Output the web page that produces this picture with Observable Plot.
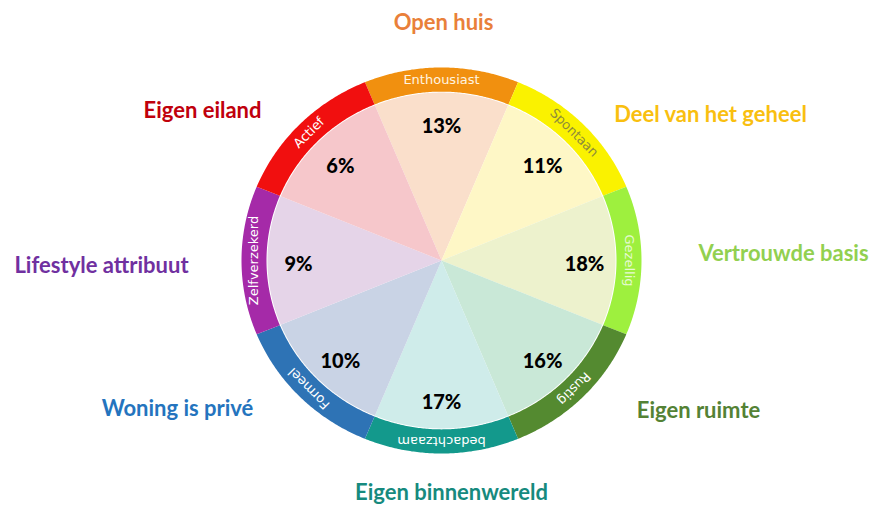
<!DOCTYPE html>
<html>
<head>
<meta charset="utf-8">
<script src="https://cdn.jsdelivr.net/npm/d3@7"></script>
<script src="https://cdn.jsdelivr.net/npm/@observablehq/plot@0.6"></script>
<style>
  html, body { margin: 0; padding: 0; background: #ffffff; }
  #chart svg { display: block; }
</style>
</head>
<body>
<div id="chart"></div>
<script>
// ---- data (clockwise from the top) ----
const traits = ["Enthousiast", "Spontaan", "Gezellig", "Rustig", "bedachtzaam", "Formeel", "Zelfverzekerd", "Actief"];
const shares = [13, 11, 18, 16, 17, 10, 9, 6];
const groups = ["Open huis", "Deel van het geheel", "Vertrouwde basis", "Eigen ruimte", "Eigen binnenwereld", "Woning is privé", "Lifestyle attribuut", "Eigen eiland"];
const ringColors = ["#F1900F", "#FAF200", "#9EF03E", "#548A30", "#13998C", "#2E73B5", "#A52AA8", "#F10F0F"];
const sliceColors = ["#FADFCB", "#FEF7C6", "#EDF2CD", "#C9E8D7", "#CFECEA", "#C9D3E5", "#E5D4E8", "#F6C7CB"];
const ringTextColors = ["#FFF4E0", "#8E8C3A", "#E6FAD2", "#FFFFFF", "#FFFFFF", "#FFFFFF", "#FFFFFF", "#FFFFFF"];
const groupColors = ["#E9803A", "#F9BF10", "#92D050", "#548235", "#168A7E", "#2474BE", "#7030A0", "#C0000C"];

// ---- layout ----
const W = 872, H = 507;
const cx = 441, cy = 260, rx = 200, ry = 193;   // wheel centre and outer radius in px
const pieR = 0.87, ringIn = 0.875, ringOut = 1.0, ringMid = 0.937, pctR = 0.715;
// outer group label anchors (in wheel units)
const groupAnchors = [[0.01, 1.233], [1.345, 0.756], [1.71, 0.036], [1.285, -0.777], [0.05, -1.202], [-1.32, -0.767], [-1.70, -0.026], [-1.195, 0.777]];

const n = traits.length;
const step = 360 / n;
const rad = d => d * Math.PI / 180;
const pt = (deg, r) => ({x: r * Math.sin(rad(deg)), y: r * Math.cos(rad(deg))});

function sector(i, r0, r1, key, color) {
  const a0 = i * step - step / 2, a1 = a0 + step;
  const pts = [];
  for (let a = a0; a <= a1 + 1e-9; a += 0.5) pts.push({...pt(a, r1), key, color});
  if (r0 === 0) pts.push({x: 0, y: 0, key, color});
  else for (let a = a1; a >= a0 - 1e-9; a -= 0.5) pts.push({...pt(a, r0), key, color});
  return pts;
}

const slices = traits.flatMap((t, i) => sector(i, 0, pieR, "s" + i, sliceColors[i]));
const rings = traits.flatMap((t, i) => sector(i, ringIn, ringOut, "r" + i, ringColors[i]));

const pctLabels = shares.map((s, i) => ({...pt(i * step, pctR), text: s + "%"}));
const ringLabels = traits.map((t, i) => ({...pt(i * step, ringMid), text: t, rot: i * step, color: ringTextColors[i]}));
const groupLabels = groups.map((g, i) => ({x: groupAnchors[i][0], y: groupAnchors[i][1], text: g, color: groupColors[i]}));

const chart = Plot.plot({
  width: W,
  height: H,
  margin: 0,
  style: {background: "#ffffff"},
  x: {domain: [-cx / rx, (W - cx) / rx], axis: null},
  y: {domain: [-(H - cy) / ry, cy / ry], axis: null},
  color: {type: "identity"},
  marks: [
    Plot.line(slices, {x: "x", y: "y", z: "key", fill: "color", stroke: "none"}),
    Plot.line(rings, {x: "x", y: "y", z: "key", fill: "color", stroke: "none"}),
    Plot.text(pctLabels, {x: "x", y: "y", dy: 4, text: "text", fill: "#000000", fontSize: 20, fontWeight: 900, fontFamily: "Lato"}),
    Plot.text(ringLabels, {x: "x", y: "y", text: "text", rotate: "rot", fill: "color", fontSize: 13, fontFamily: "DejaVu Sans", letterSpacing: "0.3px"}),
    Plot.text(groupLabels, {x: "x", y: "y", text: "text", fill: "color", fontSize: 22, fontWeight: "bold", fontFamily: "Lato"})
  ]
});
document.getElementById("chart").appendChild(chart);
</script>
</body>
</html>
